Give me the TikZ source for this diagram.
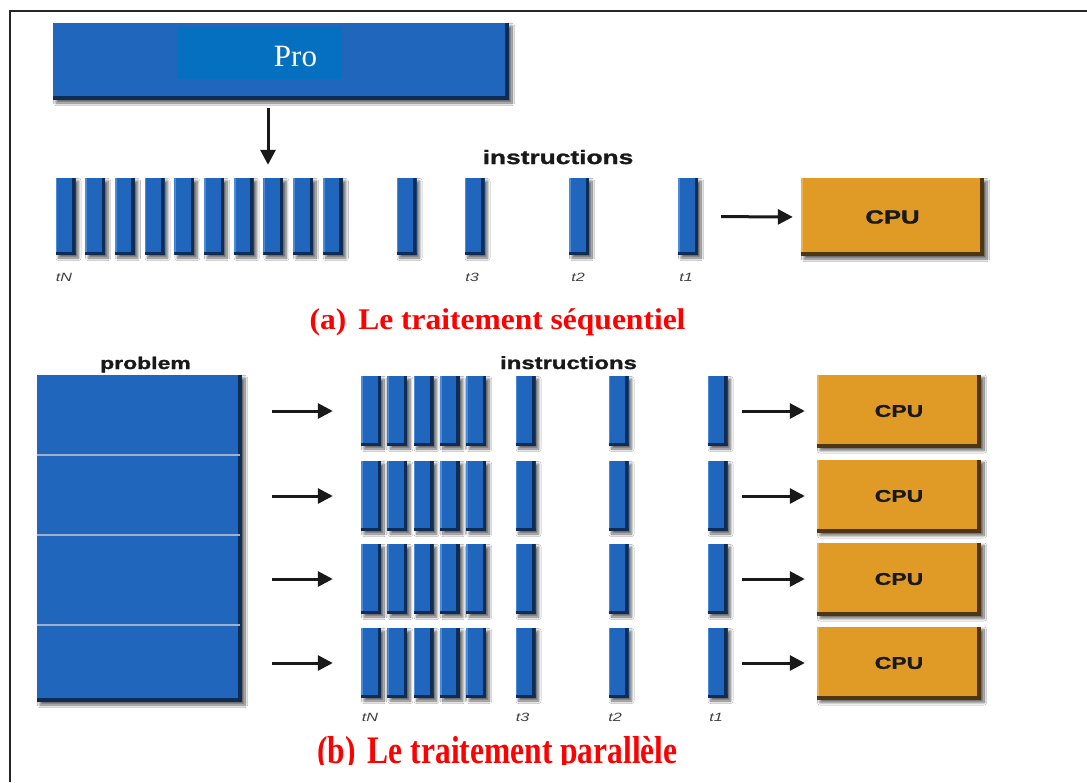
\documentclass[tikz,border=0pt]{standalone}
\usepackage{fontspec}
\setmainfont{Liberation Serif}
\setsansfont{Liberation Sans}
\newfontfamily\heavysans[FakeBold=1.2]{Liberation Sans Bold}
\usepackage{graphicx}
\usetikzlibrary{shadows.blur,arrows.meta}

\definecolor{barblue}{HTML}{1F66BC}
\definecolor{barlight}{HTML}{4A8CDA}
\definecolor{bardark}{HTML}{0F2C55}
\definecolor{progblue}{HTML}{0570C0}
\definecolor{cpuorange}{HTML}{E09B26}
\definecolor{cpudark}{HTML}{4E3610}
\definecolor{cpulight}{HTML}{EDB24E}
\definecolor{rulegray}{HTML}{9DB0CC}
\definecolor{titlered}{HTML}{FF0000}

% wide sans lettering
\newcommand{\widetxt}[1]{\scalebox{1.35}[1]{#1}}

\tikzset{
  softshadow/.style={blur shadow={shadow xshift=3pt, shadow yshift=-3pt,
      shadow blur radius=2.5pt, shadow blur steps=12, shadow opacity=60}},
  bevel/.style n args={3}{path picture={
      \fill[#1] ([xshift=-#3]path picture bounding box.north east)
                rectangle (path picture bounding box.south east);
      \fill[#1] (path picture bounding box.south west)
                rectangle ([yshift=#3]path picture bounding box.south east);
      \fill[#2] (path picture bounding box.north west)
                rectangle ([xshift=1.8pt,yshift=#3]path picture bounding box.south west);
  }},
  instr/.style={rectangle, inner sep=0pt, minimum width=20pt, fill=barblue,
      softshadow, bevel={bardark}{barlight}{3.5pt}},
  bigbox/.style={rectangle, inner sep=0pt, fill=barblue,
      softshadow, bevel={bardark}{barblue}{4pt}},
  cpubox/.style={rectangle, inner sep=0pt, fill=cpuorange, text=black!90,
      softshadow, bevel={cpudark}{cpulight}{4pt}},
  cpufont/.style={font=\fontsize{#1}{#1}\selectfont\heavysans},
  headfont/.style={font=\fontsize{#1}{#1}\selectfont\heavysans, text=black!90, anchor=base},
  tlabel/.style={font=\fontsize{12}{12}\selectfont\sffamily\itshape, text=black!75, anchor=base},
  title/.style={font=\fontsize{30}{32}\selectfont\bfseries, text=titlered, anchor=base},
  arr/.style={line width=3pt, black!90, -{Triangle[length=15pt,width=15pt]}},
}

\begin{document}
\begin{tikzpicture}[x=1pt,y=-1pt]
\useasboundingbox (0,0) rectangle (1087,782);
\fill[white] (0,0) rectangle (1087,782);

% page frame
\draw[line width=2pt, black!85] (10,782) -- (10,11) -- (1087,11);

% ---------- (a) sequential ----------
\node[bigbox, minimum width=456pt, minimum height=77pt] (prog) at (281,61.5) {};
\node[fill=progblue, inner sep=0pt, minimum width=165pt, minimum height=52pt] (proinner) at (259.5,53) {};
\node[font=\fontsize{31}{31}\selectfont, text=white] (prolabel) at (295.5,56) {Pro};

\node[headfont=19.5] (instra) at (558,164) {\widetxt{instructions}};

\foreach \i in {1,...,10}{
  \node[instr, minimum height=77pt] (a\i) at ({65.5+(\i-1)*29.7},216.5) {};
}
\node[instr, minimum height=77pt] (ax)  at (406.5,216.5) {};
\node[instr, minimum height=77pt] (at3) at (474.5,216.5) {};
\node[instr, minimum height=77pt] (at2) at (579,216.5) {};
\node[instr, minimum height=77pt] (at1) at (688,216.5) {};

\node[tlabel] (ltNa) at (64,281) {\widetxt{tN}};
\node[tlabel] (lt3a) at (472,281) {\widetxt{t3}};
\node[tlabel] (lt2a) at (578,281) {\widetxt{t2}};
\node[tlabel] (lt1a) at (686,281) {\widetxt{t1}};

\node[cpubox, minimum width=183pt, minimum height=78pt, cpufont=19] (cpua) at (892.5,217) {\widetxt{CPU}};

\coordinate (dx) at (268,0);
\draw[arr, shorten <=8pt, shorten >=13pt] (prog.south -| dx) -- (a8.north -| dx);
\draw[arr, shorten <=23pt, shorten >=8pt] (at1.east) -- (cpua.west);

\node[title] (tita) at (497.5,329) {\scalebox{1.05}[1]{(a)\hspace{4pt} Le traitement séquentiel}};

% ---------- (b) parallel ----------
\node[headfont=17] (probtxt) at (145.5,369) {\widetxt{problem}};
\node[headfont=17.7] (instrb) at (568.5,369) {\widetxt{instructions}};

\node[bigbox, minimum width=205pt, minimum height=327pt] (prob) at (139.5,538.5) {};
\foreach \yy in {455,535,625}{
  \draw[rulegray, line width=1.2pt] (37,\yy) -- (240,\yy);
}

\foreach \r/\y in {1/411,2/496,3/579,4/663}{
  \foreach \i in {1,...,5}{
    \node[instr, minimum height=70pt] (b\r-\i) at ({371+(\i-1)*26.3},\y) {};
  }
  \node[instr, minimum height=70pt] (b\r-t3) at (525.5,\y) {};
  \node[instr, minimum height=70pt] (b\r-t2) at (618.5,\y) {};
  \node[instr, minimum height=70pt] (b\r-t1) at (717.5,\y) {};
  \node[cpubox, minimum width=164pt, minimum height=73pt, cpufont=17] (cpu\r) at (899,\y) {\widetxt{CPU}};
  \draw[arr, shorten <=30pt, shorten >=28pt] (prob.east |- b\r-1.west) -- (b\r-1.west);
  \draw[arr, shorten <=14.5pt, shorten >=12pt] (b\r-t1.east) -- (cpu\r.west);
}

\node[tlabel] (ltNb) at (370,721) {\widetxt{tN}};
\node[tlabel] (lt3b) at (522.5,721) {\widetxt{t3}};
\node[tlabel] (lt2b) at (615,721) {\widetxt{t2}};
\node[tlabel] (lt1b) at (716,721) {\widetxt{t1}};

\begin{scope}
  \clip (0,0) rectangle (1087,764);
  \node[title] (titb) at (497.5,763) {\scalebox{1.05}[1.3]{(b)\hspace{4pt} Le traitement parallèle}};
\end{scope}
\end{tikzpicture}
\end{document}
